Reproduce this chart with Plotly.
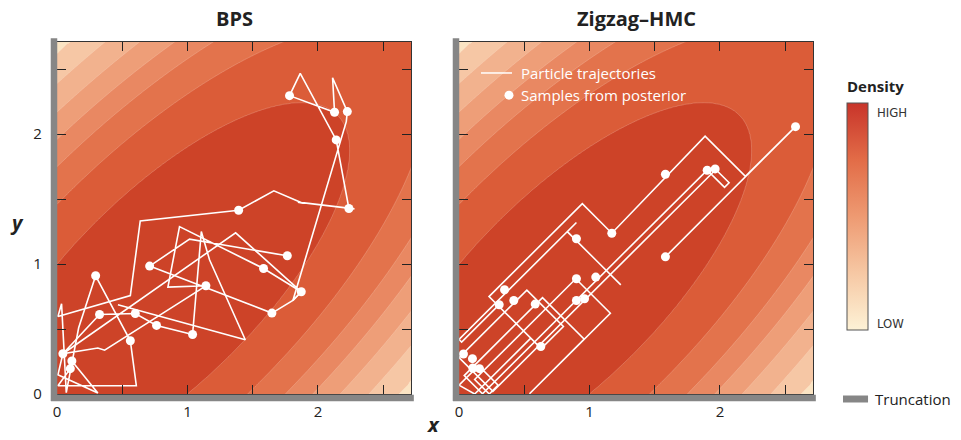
import numpy as np
import plotly.graph_objects as go

# ---------------- data ----------------
TICK_VALUES = [0, 0.5, 1, 1.5, 2, 2.5]
TICK_LABELS = ["0", "", "1", "", "2", ""]

# density model: correlated Gaussian, long axis on the diagonal
CENTER_U = 1.15      # centre along the diagonal (u = (x+y)/sqrt2)
SIGMA_U = 1.89
SIGMA_V = 0.728
# y values where the colour-band edges meet the x = 0 wall
WALL_BOUNDARIES_Y = [1.0, 1.46, 1.75, 1.96, 2.17, 2.39, 2.62]
BAND_COLORS = ["#cd4328", "#db5c38", "#e3734c", "#e98862",
               "#ee9e78", "#f2b28e", "#f6c7a5", "#fbe4c3"]
BAR_COLORS = [[0.0, "#fdf2d6"], [0.25, "#f6c8a4"], [0.5, "#ee9a72"],
              [0.75, "#e26c47"], [1.0, "#c8342a"]]

# BPS trajectory (two pieces)
bps_x = [2.280, 2.012, 1.846, 1.884, 1.662, 1.392, 0.638, 0.562, 0.007, 0.035,
         0.071, 0.166, 0.296, 0.562, 0.608, 0.007, 0.102, 0.114, 0.313, 0.007,
         0.045, 0.313, 0.365, 1.141, 0.850, 0.939, 1.583, 1.872, 1.808, 1.647,
         0.710, 1.016, 1.765, None,
         0.467, 1.443, 1.169, 1.106, 1.039, 0.763, 0.600, 0.326, 0.045, 1.369,
         1.872, 1.808, 2.217, 2.225, 2.112, 2.127, 1.782, 1.864, 2.140, 2.237]
bps_y = [1.425, 1.456, 1.477, 1.469, 1.564, 1.415, 1.333, 0.758, 0.597, 0.695,
         0.010, 0.510, 0.910, 0.410, 0.064, 0.064, 0.195, 0.254, 0.008, 0.148,
         0.310, 0.354, 0.337, 0.833, 0.823, 1.289, 0.966, 0.787, 0.720, 0.623,
         0.985, 1.192, 1.064, None,
         0.687, 0.418, 1.033, 1.251, 0.458, 0.528, 0.620, 0.612, 0.310, 1.241,
         0.787, 0.720, 2.097, 2.174, 2.435, 2.169, 2.297, 2.469, 1.956, 1.428]
bps_sample_x = [1.782, 2.127, 2.225, 2.140, 2.237, 1.392, 1.765, 1.583, 1.872, 1.647,
                0.710, 1.141, 0.296, 0.326, 0.600, 0.763, 1.039, 0.562, 0.045, 0.114, 0.102]
bps_sample_y = [2.297, 2.169, 2.174, 1.956, 1.428, 1.415, 1.064, 0.966, 0.787, 0.623,
                0.985, 0.833, 0.910, 0.612, 0.620, 0.528, 0.458, 0.410, 0.310, 0.254, 0.195]

# Zigzag-HMC trajectory
zz_x = [1.582, 2.195, 2.579, 2.195, 1.886, 1.171, 0.945, 0.230, 0.630, 0.800,
        0.520, 0.000, 0.260, 1.968, 2.070, 2.035, 1.902, 0.180, 0.040, 0.640,
        0.960, 0.540, 1.160, 0.895, 0.120, 0.232, 0.300, 0.150, 0.000, 0.120,
        0.550, 0.300, 0.020, 0.000, 0.900, 0.830, 1.060, 1.240]
zz_y = [1.056, 1.675, 2.058, 1.675, 1.985, 1.238, 1.465, 0.750, 0.350, 0.520,
        0.800, 0.280, 0.020, 1.728, 1.626, 1.591, 1.724, 0.002, 0.142, 0.742,
        0.422, 0.002, 0.622, 0.887, 0.112, 0.000, 0.068, 0.218, 0.068, 0.000,
        0.430, 0.680, 0.400, 0.420, 1.320, 1.250, 1.020, 0.840]
zz_sample_x = [2.579, 1.582, 1.902, 1.963, 1.171, 0.900, 1.582, 0.900, 1.048, 0.349,
               0.308, 0.420, 0.584, 0.900, 0.962, 0.627, 0.034, 0.103, 0.106, 0.157]
zz_sample_y = [2.058, 1.692, 1.723, 1.733, 1.238, 1.195, 1.056, 0.887, 0.900, 0.803,
               0.687, 0.720, 0.692, 0.720, 0.733, 0.366, 0.308, 0.272, 0.200, 0.195]

# ---------------- density surface ----------------
def mahal(x, y):
    u = (x + y) / np.sqrt(2)
    v = (y - x) / np.sqrt(2)
    return np.sqrt(((u - CENTER_U) / SIGMA_U) ** 2 + (v / SIGMA_V) ** 2)

grid = np.linspace(0, 2.75, 276)
GX, GY = np.meshgrid(grid, grid)
levels = [float(mahal(0.0, w)) for w in WALL_BOUNDARIES_Y]
xp = [0.0] + levels + [levels[-1] + 10.0]
fp = list(range(len(xp)))
Z = np.round(np.interp(mahal(GX, GY), xp, fp), 4)
band_scale = [[k / (len(BAND_COLORS) - 1), c] for k, c in enumerate(BAND_COLORS)]

fig = go.Figure()
for xa, ya in [("x", "y"), ("x2", "y2")]:
    fig.add_trace(go.Contour(
        x=grid, y=grid, z=Z, xaxis=xa, yaxis=ya,
        autocontour=False,
        contours=dict(start=1, end=len(levels), size=1, coloring="fill", showlines=True),
        line=dict(color="rgba(255,240,230,0.35)", width=0.6, smoothing=1),
        colorscale=band_scale, showscale=False, hoverinfo="skip"))

LINE = dict(color="white", width=1.6)
MARK = dict(color="white", size=9, line=dict(width=0))
fig.add_trace(go.Scatter(x=bps_x, y=bps_y, mode="lines", line=LINE,
                         connectgaps=False, showlegend=False, hoverinfo="skip"))
fig.add_trace(go.Scatter(x=bps_sample_x, y=bps_sample_y, mode="markers", marker=MARK,
                         showlegend=False, hoverinfo="skip"))
fig.add_trace(go.Scatter(x=zz_x, y=zz_y, mode="lines", line=LINE, xaxis="x2", yaxis="y2",
                         showlegend=False, hoverinfo="skip"))
fig.add_trace(go.Scatter(x=zz_sample_x, y=zz_sample_y, mode="markers", marker=MARK,
                         xaxis="x2", yaxis="y2", showlegend=False, hoverinfo="skip"))

# colour bar (continuous)
fig.add_trace(go.Scatter(
    x=[None], y=[None], mode="markers", showlegend=False, hoverinfo="skip",
    marker=dict(color=[0], cmin=0, cmax=1, colorscale=BAR_COLORS, showscale=True,
                colorbar=dict(x=1.045, xanchor="left", y=0.827, yanchor="top",
                              len=227, lenmode="pixels", thickness=21,
                              thicknessmode="pixels", outlinewidth=1,
                              outlinecolor="#555555", showticklabels=False,
                              ticks="", xpad=0, ypad=0))))

FONT = "Open Sans, Noto Sans, sans-serif"
axis_common = dict(range=[0, 2.713], showgrid=False, zeroline=False,
                   tickmode="array", tickvals=TICK_VALUES, ticktext=TICK_LABELS,
                   ticks="inside", ticklen=9, tickwidth=1.3, tickcolor="#222222",
                   showline=True, linecolor="#333333", linewidth=1.2, mirror="ticks",
                   tickfont=dict(family=FONT, size=15, color="#222222"))
W = 354 / 756
fig.update_layout(
    width=961, height=440,
    margin=dict(l=57, r=148, t=42, b=46, autoexpand=False),
    paper_bgcolor="white", plot_bgcolor="white",
    xaxis=dict(domain=[0, W], anchor="y", ticklabelstandoff=4, **axis_common),
    yaxis=dict(domain=[0, 1], anchor="x", ticklabelstandoff=11,
               **{**axis_common, "range": [0, 2.71]}),
    xaxis2=dict(domain=[1 - W, 1], anchor="y2", ticklabelstandoff=4, **axis_common),
    yaxis2=dict(domain=[0, 1], anchor="x2", showticklabels=False,
                **{**axis_common, "range": [0, 2.71]}),
    font=dict(family=FONT),
)

shapes = []
for xd, yd in [("x domain", "y domain"), ("x2 domain", "y2 domain")]:
    shapes.append(dict(type="line", xref=xd, yref=yd, x0=-0.0085, x1=-0.0085,
                       y0=-0.02, y1=1.011, line=dict(color="#868686", width=6.5)))
    shapes.append(dict(type="line", xref=xd, yref=yd, x0=-0.017, x1=1.008,
                       y0=-0.0114, y1=-0.0114, line=dict(color="#868686", width=6.5)))
# truncation key
shapes.append(dict(type="line", xref="paper", yref="paper", x0=1.0397, x1=1.0728,
                   y0=-0.0142, y1=-0.0142, line=dict(color="#868686", width=7)))
# in-panel key (right panel)
shapes.append(dict(type="line", xref="x2 domain", yref="y2 domain", x0=0.0621, x1=0.1497,
                   y0=0.912, y1=0.912, line=dict(color="white", width=1.5)))
shapes.append(dict(type="circle", xref="x2 domain", yref="y2 domain",
                   x0=0.1412 - 0.0127, x1=0.1412 + 0.0127, y0=0.849 - 0.0128, y1=0.849 + 0.0128,
                   fillcolor="white", line=dict(width=0)))
fig.update_layout(shapes=shapes)

DARK = "#222222"
ann = [
    dict(text="<b>BPS</b>", xref="x domain", yref="paper", x=0.5, y=1.068,
         xanchor="center", font=dict(size=20, color=DARK)),
    dict(text="<b>Zigzag–HMC</b>", xref="x2 domain", yref="paper", x=0.5, y=1.068,
         xanchor="center", font=dict(size=20, color=DARK)),
    dict(text="<b><i>y</i></b>", xref="paper", yref="paper", x=-0.0529, y=0.4886,
         xanchor="center", font=dict(size=20, color=DARK)),
    dict(text="<b><i>x</i></b>", xref="paper", yref="paper", x=0.4974, y=-46 / 352,
         xanchor="center", yanchor="bottom", font=dict(size=20, color=DARK)),
    dict(text="<b>Density</b>", xref="paper", yref="paper", x=1.0833, y=0.875,
         xanchor="center", font=dict(size=15, color=DARK)),
    dict(text="HIGH", xref="paper", yref="paper", x=1.082, y=0.801, xanchor="left",
         font=dict(family="DejaVu Sans Condensed, Open Sans", size=13, color="#333333")),
    dict(text="LOW", xref="paper", yref="paper", x=1.082, y=0.2017, xanchor="left",
         font=dict(family="DejaVu Sans Condensed, Open Sans", size=13, color="#333333")),
    dict(text="Truncation", xref="paper", yref="paper", x=1.0794, y=-0.0142, xanchor="left",
         font=dict(size=15, color=DARK)),
    dict(text="Particle trajectories", xref="x2 domain", yref="y2 domain", x=0.1695, y=0.912,
         xanchor="left", font=dict(size=15, color="white")),
    dict(text="Samples from posterior", xref="x2 domain", yref="y2 domain", x=0.1695, y=0.849,
         xanchor="left", font=dict(size=15, color="white")),
]
for a in ann:
    a.setdefault("showarrow", False)
    a.setdefault("yanchor", "middle")
fig.update_layout(annotations=ann)

# remove the browser's default 8px page margin so the figure fills the window
fig.write_html("out.html", config={"displayModeBar": False},
               post_script="document.body.style.margin='0';document.body.style.overflow='hidden';")
